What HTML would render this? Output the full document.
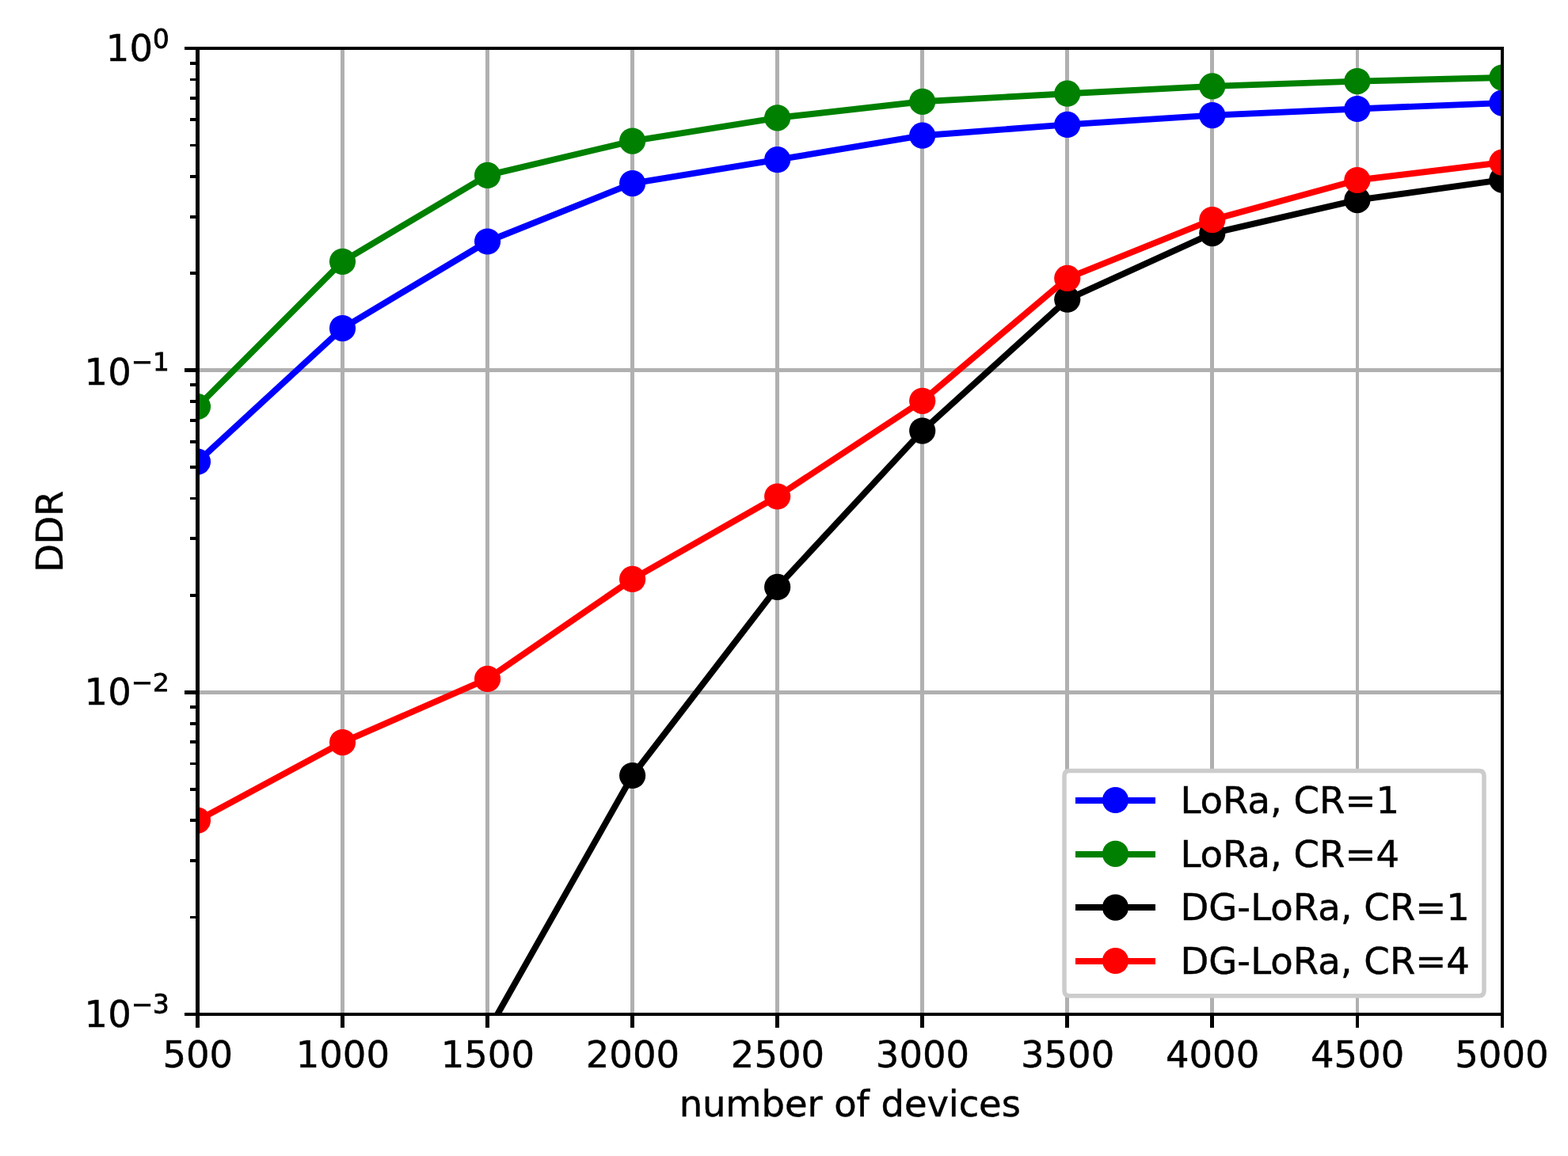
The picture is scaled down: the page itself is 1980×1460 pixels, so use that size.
<!DOCTYPE html>
<html lang="en"><head><meta charset="utf-8"><title>DDR vs number of devices</title>
<style>html,body{margin:0;padding:0;background:#fff;}body{width:1980px;height:1460px;overflow:hidden;}svg{display:block;}text{font-family:'DejaVu Sans', 'Liberation Sans', sans-serif;fill:#000;}</style></head><body>
<svg width="1980" height="1460" viewBox="0 0 1980 1460" role="img" aria-label="DDR versus number of devices">
<rect x="0" y="0" width="1980" height="1460" fill="#ffffff"/>
<defs><clipPath id="axclip"><rect x="249.47" y="61.00" width="1647.45" height="1220.00"/></clipPath></defs>
<g fill="#b0b0b0">
<rect x="247" y="61" width="5" height="1220"/>
<rect x="430" y="61" width="5" height="1220"/>
<rect x="613" y="61" width="5" height="1220"/>
<rect x="796" y="61" width="5" height="1220"/>
<rect x="979" y="61" width="5" height="1220"/>
<rect x="1162" y="61" width="5" height="1220"/>
<rect x="1345" y="61" width="5" height="1220"/>
<rect x="1528" y="61" width="5" height="1220"/>
<rect x="1712" y="61" width="4" height="1220"/>
<rect x="1895" y="61" width="4" height="1220"/>
<rect x="249" y="59" width="1648" height="4"/>
<rect x="249" y="465" width="1648" height="5"/>
<rect x="249" y="872" width="1648" height="5"/>
<rect x="249" y="1279" width="1648" height="4"/>
</g>
<g clip-path="url(#axclip)">
<polyline fill="none" stroke="#0000ff" stroke-width="7.90" stroke-linejoin="round" points="249.47,583.20 432.52,414.60 615.57,305.00 798.62,231.60 981.67,201.70 1164.72,171.20 1347.77,157.40 1530.82,145.60 1713.87,137.50 1896.92,130.10"/>
<circle cx="249.47" cy="583.20" r="16.60" fill="#0000ff"/>
<circle cx="432.52" cy="414.60" r="16.60" fill="#0000ff"/>
<circle cx="615.57" cy="305.00" r="16.60" fill="#0000ff"/>
<circle cx="798.62" cy="231.60" r="16.60" fill="#0000ff"/>
<circle cx="981.67" cy="201.70" r="16.60" fill="#0000ff"/>
<circle cx="1164.72" cy="171.20" r="16.60" fill="#0000ff"/>
<circle cx="1347.77" cy="157.40" r="16.60" fill="#0000ff"/>
<circle cx="1530.82" cy="145.60" r="16.60" fill="#0000ff"/>
<circle cx="1713.87" cy="137.50" r="16.60" fill="#0000ff"/>
<circle cx="1896.92" cy="130.10" r="16.60" fill="#0000ff"/>
<polyline fill="none" stroke="#008000" stroke-width="7.90" stroke-linejoin="round" points="249.47,513.50 432.52,330.30 615.57,221.40 798.62,178.10 981.67,148.80 1164.72,128.30 1347.77,118.20 1530.82,108.90 1713.87,102.60 1896.92,98.00"/>
<circle cx="249.47" cy="513.50" r="16.60" fill="#008000"/>
<circle cx="432.52" cy="330.30" r="16.60" fill="#008000"/>
<circle cx="615.57" cy="221.40" r="16.60" fill="#008000"/>
<circle cx="798.62" cy="178.10" r="16.60" fill="#008000"/>
<circle cx="981.67" cy="148.80" r="16.60" fill="#008000"/>
<circle cx="1164.72" cy="128.30" r="16.60" fill="#008000"/>
<circle cx="1347.77" cy="118.20" r="16.60" fill="#008000"/>
<circle cx="1530.82" cy="108.90" r="16.60" fill="#008000"/>
<circle cx="1713.87" cy="102.60" r="16.60" fill="#008000"/>
<circle cx="1896.92" cy="98.00" r="16.60" fill="#008000"/>
<polyline fill="none" stroke="#000000" stroke-width="7.90" stroke-linejoin="round" points="615.57,1303.30 798.62,979.50 981.67,741.40 1164.72,544.10 1347.77,378.20 1530.82,294.60 1713.87,252.60 1896.92,227.10"/>
<circle cx="615.57" cy="1303.30" r="16.60" fill="#000000"/>
<circle cx="798.62" cy="979.50" r="16.60" fill="#000000"/>
<circle cx="981.67" cy="741.40" r="16.60" fill="#000000"/>
<circle cx="1164.72" cy="544.10" r="16.60" fill="#000000"/>
<circle cx="1347.77" cy="378.20" r="16.60" fill="#000000"/>
<circle cx="1530.82" cy="294.60" r="16.60" fill="#000000"/>
<circle cx="1713.87" cy="252.60" r="16.60" fill="#000000"/>
<circle cx="1896.92" cy="227.10" r="16.60" fill="#000000"/>
<polyline fill="none" stroke="#ff0000" stroke-width="7.90" stroke-linejoin="round" points="249.47,1036.20 432.52,937.60 615.57,857.40 798.62,731.40 981.67,627.00 1164.72,506.30 1347.77,351.40 1530.82,277.60 1713.87,227.50 1896.92,205.20"/>
<circle cx="249.47" cy="1036.20" r="16.60" fill="#ff0000"/>
<circle cx="432.52" cy="937.60" r="16.60" fill="#ff0000"/>
<circle cx="615.57" cy="857.40" r="16.60" fill="#ff0000"/>
<circle cx="798.62" cy="731.40" r="16.60" fill="#ff0000"/>
<circle cx="981.67" cy="627.00" r="16.60" fill="#ff0000"/>
<circle cx="1164.72" cy="506.30" r="16.60" fill="#ff0000"/>
<circle cx="1347.77" cy="351.40" r="16.60" fill="#ff0000"/>
<circle cx="1530.82" cy="277.60" r="16.60" fill="#ff0000"/>
<circle cx="1713.87" cy="227.50" r="16.60" fill="#ff0000"/>
<circle cx="1896.92" cy="205.20" r="16.60" fill="#ff0000"/>
</g>
<g fill="#000">
<rect x="247" y="1281" width="5" height="17"/>
<rect x="430" y="1281" width="5" height="17"/>
<rect x="613" y="1281" width="5" height="17"/>
<rect x="796" y="1281" width="5" height="17"/>
<rect x="979" y="1281" width="5" height="17"/>
<rect x="1162" y="1281" width="5" height="17"/>
<rect x="1345" y="1281" width="5" height="17"/>
<rect x="1528" y="1281" width="5" height="17"/>
<rect x="1712" y="1281" width="4" height="17"/>
<rect x="1895" y="1281" width="4" height="17"/>
<rect x="233" y="59" width="17" height="4"/>
<rect x="233" y="465" width="17" height="5"/>
<rect x="233" y="872" width="17" height="5"/>
<rect x="233" y="1279" width="17" height="4"/>
<rect x="240" y="343" width="10" height="4"/>
<rect x="240" y="272" width="10" height="4"/>
<rect x="240" y="221" width="10" height="4"/>
<rect x="240" y="182" width="10" height="3"/>
<rect x="240" y="149" width="10" height="4"/>
<rect x="240" y="122" width="10" height="4"/>
<rect x="240" y="99" width="10" height="3"/>
<rect x="240" y="78" width="10" height="4"/>
<rect x="240" y="750" width="10" height="4"/>
<rect x="240" y="678" width="10" height="4"/>
<rect x="240" y="628" width="10" height="3"/>
<rect x="240" y="588" width="10" height="4"/>
<rect x="240" y="556" width="10" height="4"/>
<rect x="240" y="529" width="10" height="4"/>
<rect x="240" y="505" width="10" height="4"/>
<rect x="240" y="484" width="10" height="4"/>
<rect x="240" y="1157" width="10" height="3"/>
<rect x="240" y="1085" width="10" height="4"/>
<rect x="240" y="1034" width="10" height="4"/>
<rect x="240" y="995" width="10" height="4"/>
<rect x="240" y="963" width="10" height="3"/>
<rect x="240" y="935" width="10" height="4"/>
<rect x="240" y="912" width="10" height="4"/>
<rect x="240" y="891" width="10" height="4"/>
<rect x="247" y="59" width="5" height="1224"/>
<rect x="1895" y="59" width="4" height="1224"/>
<rect x="247" y="59" width="1652" height="4"/>
<rect x="247" y="1279" width="1652" height="4"/>
</g>
<g font-size="46.50" text-anchor="middle" stroke="#000" stroke-width="0.45">
<text x="249.77" y="1348.2">500</text>
<text x="432.82" y="1348.2">1000</text>
<text x="615.87" y="1348.2">1500</text>
<text x="798.92" y="1348.2">2000</text>
<text x="981.97" y="1348.2">2500</text>
<text x="1165.02" y="1348.2">3000</text>
<text x="1348.07" y="1348.2">3500</text>
<text x="1531.12" y="1348.2">4000</text>
<text x="1714.17" y="1348.2">4500</text>
<text x="1896.42" y="1348.2">5000</text>
</g>
<text x="133.80" y="76.90" font-size="46.50" stroke="#000" stroke-width="0.45">10</text>
<text transform="translate(192.97 60.60) scale(1 1.035)" font-size="32.55" stroke="#000" stroke-width="0.8">0</text>
<text x="106.60" y="485.90" font-size="46.50" stroke="#000" stroke-width="0.45">10</text>
<text transform="translate(165.77 468.10) scale(1 1.000)" font-size="32.55" stroke="#000" stroke-width="0.8">−1</text>
<text x="106.60" y="890.00" font-size="46.50" stroke="#000" stroke-width="0.45">10</text>
<text transform="translate(165.77 872.90) scale(1 1.000)" font-size="32.55" stroke="#000" stroke-width="0.8">−2</text>
<text x="106.60" y="1296.80" font-size="46.50" stroke="#000" stroke-width="0.45">10</text>
<text transform="translate(165.77 1279.60) scale(1 1.035)" font-size="32.55" stroke="#000" stroke-width="0.8">−3</text>
<text x="1073.2" y="1410.4" font-size="46.50" text-anchor="middle" letter-spacing="-0.1" stroke="#000" stroke-width="0.45">number of devices</text>
<text transform="translate(79 671.5) rotate(-90)" font-size="46.50" text-anchor="middle" letter-spacing="-0.5" stroke="#000" stroke-width="0.45">DDR</text>
<path d="M1350.50,973.50 L1867.50,973.50 Q1874.00,973.50 1874.00,980.00 L1874.00,1251.30 Q1874.00,1257.80 1867.50,1257.80 L1350.50,1257.80 Q1344.00,1257.80 1344.00,1251.30 L1344.00,980.00 Q1344.00,973.50 1350.50,973.50 Z" fill="#ffffff" stroke="#cccccc" stroke-width="5.5" stroke-linejoin="round"/>
<rect x="1358" y="1007" width="101" height="8" fill="#0000ff"/>
<circle cx="1408.5" cy="1010.50" r="16.60" fill="#0000ff"/>
<text x="1490.4" y="1027.10" font-size="46.60" stroke="#000" stroke-width="0.45">LoRa, CR=1</text>
<rect x="1358" y="1075" width="101" height="8" fill="#008000"/>
<circle cx="1408.5" cy="1078.30" r="16.60" fill="#008000"/>
<text x="1490.4" y="1094.80" font-size="46.60" stroke="#000" stroke-width="0.45">LoRa, CR=4</text>
<rect x="1358" y="1142" width="101" height="8" fill="#000000"/>
<circle cx="1408.5" cy="1146.10" r="16.60" fill="#000000"/>
<text x="1490.4" y="1161.70" font-size="46.60" stroke="#000" stroke-width="0.45">DG-LoRa, CR=1</text>
<rect x="1358" y="1210" width="101" height="8" fill="#ff0000"/>
<circle cx="1408.5" cy="1213.50" r="16.60" fill="#ff0000"/>
<text x="1490.4" y="1229.70" font-size="46.60" stroke="#000" stroke-width="0.45">DG-LoRa, CR=4</text>
</svg></body></html>
